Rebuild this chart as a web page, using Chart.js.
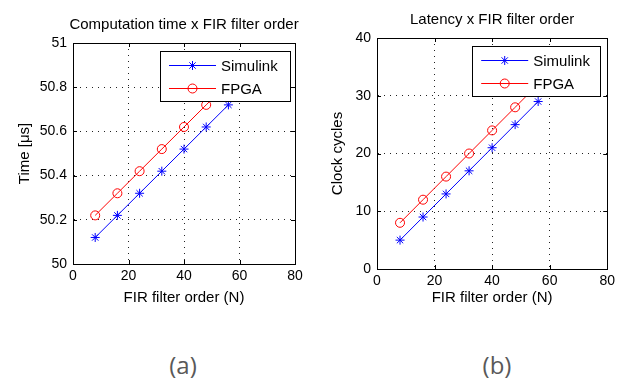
<!DOCTYPE html>
<html>
<head>
<meta charset="utf-8">
<script src="https://cdn.jsdelivr.net/npm/chart.js@4"></script>
<style>
  html, body { margin: 0; padding: 0; background: #fff; }
  body { width: 619px; height: 381px; position: relative; overflow: hidden; }
  .plot { position: absolute; top: 0; }
  .caption {
    position: absolute; top: 348px; width: 60px; text-align: center;
    font-family: "Open Sans", sans-serif; font-size: 24px; color: #595959;
  }
</style>
</head>
<body>
<div class="plot" style="left:0;width:310px;height:320px"><canvas id="timeChart"></canvas></div>
<div class="plot" style="left:310px;width:309px;height:320px"><canvas id="latencyChart"></canvas></div>
<div class="caption" style="left:153px">(a)</div>
<div class="caption" style="left:467px">(b)</div>
<script>
const filterOrder = [8, 16, 24, 32, 40, 48, 56];
const timeSimulink = [50.12, 50.22, 50.32, 50.42, 50.52, 50.62, 50.72];
const timeFpga = [50.22, 50.32, 50.42, 50.52, 50.62, 50.72, 50.82];
const latencySimulink = [5, 9, 13, 17, 21, 25, 29];
const latencyFpga = [8, 12, 16, 20, 24, 28, 32];
const seriesNames = ['Simulink', 'FPGA'];

const FONT = '"Liberation Sans", Arial, sans-serif';

function points(ys) {
    return filterOrder.map((x, i) => ({ x, y: ys[i] }));
}

// title centred over the plot area, MATLAB style
const plotTitle = {
    id: 'plotTitle',
    afterDraw(chart, args, opts) {
        const { ctx, chartArea } = chart;
        ctx.save();
        ctx.font = '15px ' + FONT;
        ctx.fillStyle = '#000';
        ctx.textAlign = 'center';
        ctx.textBaseline = 'middle';
        ctx.fillText(opts.text, (chartArea.left + chartArea.right) / 2, opts.y);
        ctx.restore();
    }
};

// inward tick marks on all four sides
const innerTicks = {
    id: 'innerTicks',
    afterDraw(chart) {
        const { ctx, chartArea, scales } = chart;
        const len = 4;
        ctx.save();
        ctx.strokeStyle = '#000';
        ctx.lineWidth = 1;
        ctx.beginPath();
        scales.x.ticks.forEach(t => {
            const px = Math.round(scales.x.getPixelForValue(t.value)) + 0.5;
            ctx.moveTo(px, chartArea.bottom); ctx.lineTo(px, chartArea.bottom - len);
            ctx.moveTo(px, chartArea.top); ctx.lineTo(px, chartArea.top + len);
        });
        scales.y.ticks.forEach(t => {
            const py = Math.round(scales.y.getPixelForValue(t.value)) + 0.5;
            ctx.moveTo(chartArea.left, py); ctx.lineTo(chartArea.left + len, py);
            ctx.moveTo(chartArea.right, py); ctx.lineTo(chartArea.right - len, py);
        });
        ctx.stroke();
        ctx.strokeRect(Math.round(chartArea.left) + 0.5, Math.round(chartArea.top) + 0.5,
            Math.round(chartArea.right - chartArea.left), Math.round(chartArea.bottom - chartArea.top));
        ctx.restore();
    }
};

// boxed legend inside the axes, drawn over the data
const boxLegend = {
    id: 'boxLegend',
    afterDraw(chart, args, opts) {
        const { ctx, chartArea } = chart;
        const x0 = chartArea.right - opts.right - opts.width;
        const y0 = chartArea.top + opts.top;
        ctx.save();
        ctx.fillStyle = '#fff';
        ctx.fillRect(x0, y0, opts.width, opts.height);
        ctx.strokeStyle = '#000';
        ctx.lineWidth = 1;
        ctx.strokeRect(Math.round(x0) + 0.5, Math.round(y0) + 0.5, opts.width, opts.height);
        chart.data.datasets.forEach((ds, i) => {
            const y = Math.round(y0 + 14 + i * 23) + 0.5;
            const lx = x0 + 9, rx = x0 + 56;
            ctx.strokeStyle = ds.borderColor;
            ctx.lineWidth = 1;
            ctx.beginPath();
            ctx.moveTo(lx, y); ctx.lineTo(rx, y);
            ctx.stroke();
            ctx.fillStyle = 'rgba(0,0,0,0)';
            Chart.helpers.drawPoint(ctx, {
                pointStyle: ds.pointStyle, radius: ds.pointRadius,
                borderWidth: 1, rotation: 0
            }, (lx + rx) / 2, y);
            ctx.fillStyle = '#000';
            ctx.font = '15px ' + FONT;
            ctx.textAlign = 'left';
            ctx.textBaseline = 'middle';
            ctx.fillText(ds.label, x0 + 61, y + 1);
        });
        ctx.restore();
    }
};

function makeDataset(label, ys, color, style) {
    return {
        label,
        data: points(ys),
        borderColor: color,
        backgroundColor: color,
        borderWidth: 1,
        pointStyle: style,
        pointRadius: 4.5,
        pointHoverRadius: 4.5,
        pointBorderColor: color,
        pointBackgroundColor: 'rgba(0,0,0,0)',
        pointBorderWidth: 1,
        tension: 0
    };
}

function makeChart(id, cfg) {
    const gridStyle = {
        color: '#222',
        lineWidth: 1,
        drawTicks: false
    };
    return new Chart(document.getElementById(id), {
        type: 'line',
        data: {
            datasets: [
                makeDataset(seriesNames[0], cfg.simulink, '#0000ff', 'star'),
                makeDataset(seriesNames[1], cfg.fpga, '#ff0000', 'circle')
            ]
        },
        options: {
            responsive: true,
            maintainAspectRatio: false,
            animation: false,
            layout: { padding: { top: cfg.padTop, right: cfg.padRight, left: 0, bottom: 0 } },
            scales: {
                x: {
                    type: 'linear', min: 0, max: 80,
                    ticks: { stepSize: 20, color: '#000', padding: 4, font: { family: FONT, size: 14 } },
                    grid: gridStyle,
                    border: { display: true, color: '#000', dash: [1, 5] },
                    title: {
                        display: true, text: 'FIR filter order (N)', color: '#000',
                        font: { family: FONT, size: 15 }, padding: { top: 0, bottom: 13 }
                    },
                    afterFit: s => { s.height = cfg.xHeight; }
                },
                y: {
                    min: cfg.yMin, max: cfg.yMax,
                    ticks: {
                        stepSize: cfg.yStep, color: '#000', padding: 6,
                        font: { family: FONT, size: 14 },
                        callback: v => +v.toFixed(1)
                    },
                    grid: gridStyle,
                    border: { display: true, color: '#000', dash: [1, 5] },
                    title: {
                        display: true, text: cfg.yTitle, color: '#000',
                        font: { family: FONT, size: 15 }, padding: { top: cfg.yTitlePad, bottom: 0 }
                    },
                    afterFit: s => { s.width = cfg.yWidth; }
                }
            },
            plugins: {
                legend: { display: false },
                tooltip: { enabled: false },
                plotTitle: { text: cfg.title, y: cfg.titleY },
                boxLegend: cfg.legendBox
            }
        },
        plugins: [plotTitle, innerTicks, boxLegend]
    });
}

makeChart('timeChart', {
    simulink: timeSimulink, fpga: timeFpga,
    yMin: 50, yMax: 51, yStep: 0.2,
    yTitle: 'Time [\u03bcs]', title: 'Computation time x FIR filter order',
    padTop: 43, padRight: 15, xHeight: 56, yWidth: 73, yTitlePad: 16, titleY: 25,
    legendBox: { right: 5, top: 8, width: 130, height: 50 }
});

makeChart('latencyChart', {
    simulink: latencySimulink, fpga: latencyFpga,
    yMin: 0, yMax: 40, yStep: 10,
    yTitle: 'Clock cycles', title: 'Latency x FIR filter order',
    padTop: 38, padRight: 7, xHeight: 51, yWidth: 67, yTitlePad: 19, titleY: 20,
    legendBox: { right: 7, top: 8, width: 128, height: 50 }
});
</script>
</body>
</html>
